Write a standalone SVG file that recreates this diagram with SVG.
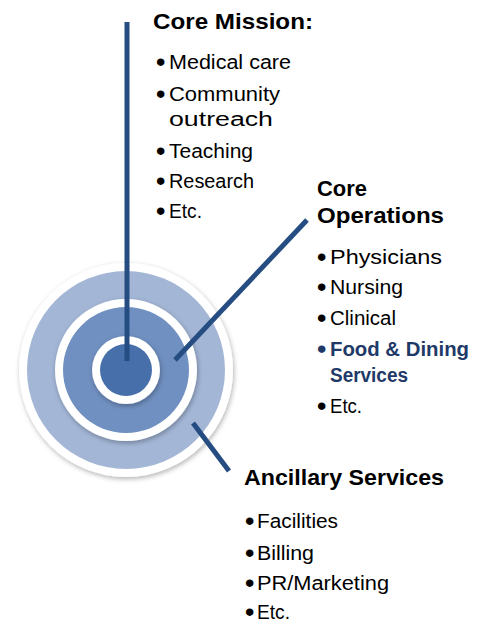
<svg xmlns="http://www.w3.org/2000/svg" width="487" height="623" viewBox="0 0 487 623">
  <defs>
    <filter id="sh" x="-20%" y="-20%" width="140%" height="140%">
      <feDropShadow dx="1" dy="2" stdDeviation="2.5" flood-color="#000" flood-opacity="0.3"/>
    </filter>
    <style>
      text { font-family: "Liberation Sans", Arial, sans-serif; fill: #000; }
      .t { font-size: 22px; font-weight: bold; }
      .b { font-size: 20px; }
      .hl { font-size: 20px; font-weight: bold; fill: #1f3a68; }
      .dot { font-size: 21px; stroke: #000; stroke-width: 1.8; }
      .dothl { font-size: 21px; fill: #1f3a68; stroke: #1f3a68; stroke-width: 1.8; }
      .ring { fill: #ffffff; filter: url(#sh); }
      .conn { stroke: #264d82; stroke-width: 5; fill: none; }
    </style>
  </defs>
  <rect width="487" height="623" fill="#ffffff"/>

  <g id="ancillary-services">
    <circle class="ring" cx="126" cy="370" r="107"/>
    <circle cx="126" cy="370" r="99" fill="#a3b6d6"/>
    <text class="t" x="244" y="485" textLength="200" lengthAdjust="spacingAndGlyphs">Ancillary Services</text>
    <text class="dot" x="246" y="528">•</text>
    <text class="b" x="257" y="528" textLength="81" lengthAdjust="spacingAndGlyphs">Facilities</text>
    <text class="dot" x="246" y="560">•</text>
    <text class="b" x="257" y="560" textLength="57" lengthAdjust="spacingAndGlyphs">Billing</text>
    <text class="dot" x="246" y="590">•</text>
    <text class="b" x="257" y="590" textLength="132" lengthAdjust="spacingAndGlyphs">PR/Marketing</text>
    <text class="dot" x="246" y="619">•</text>
    <text class="b" x="257" y="619" textLength="33" lengthAdjust="spacingAndGlyphs">Etc.</text>
  </g>

  <g id="core-operations">
    <circle class="ring" cx="126" cy="370" r="71"/>
    <circle cx="126" cy="370" r="63" fill="#7090c1"/>
    <text class="t" x="317" y="196" textLength="50" lengthAdjust="spacingAndGlyphs">Core</text>
    <text class="t" x="317" y="223" textLength="127" lengthAdjust="spacingAndGlyphs">Operations</text>
    <text class="dot" x="318" y="264">•</text>
    <text class="b" x="330" y="264" textLength="112" lengthAdjust="spacingAndGlyphs">Physicians</text>
    <text class="dot" x="318" y="294">•</text>
    <text class="b" x="330" y="294" textLength="73" lengthAdjust="spacingAndGlyphs">Nursing</text>
    <text class="dot" x="318" y="325">•</text>
    <text class="b" x="330" y="325" textLength="66" lengthAdjust="spacingAndGlyphs">Clinical</text>
    <text class="dothl" x="318" y="356">•</text>
    <text class="hl" x="330" y="356" textLength="139" lengthAdjust="spacingAndGlyphs">Food &amp; Dining</text>
    <text class="hl" x="330" y="382" textLength="78" lengthAdjust="spacingAndGlyphs">Services</text>
    <text class="dot" x="318" y="413">•</text>
    <text class="b" x="330" y="413" textLength="32" lengthAdjust="spacingAndGlyphs">Etc.</text>
  </g>

  <g id="core-mission">
    <circle class="ring" cx="126" cy="370" r="34"/>
    <circle cx="126" cy="370" r="26" fill="#4770aa"/>
    <text class="t" x="153" y="29" textLength="160" lengthAdjust="spacingAndGlyphs">Core Mission:</text>
    <text class="dot" x="157" y="69">•</text>
    <text class="b" x="169" y="69" textLength="122" lengthAdjust="spacingAndGlyphs">Medical care</text>
    <text class="dot" x="157" y="101">•</text>
    <text class="b" x="169" y="101" textLength="111" lengthAdjust="spacingAndGlyphs">Community</text>
    <text class="b" x="169" y="126" textLength="104" lengthAdjust="spacingAndGlyphs">outreach</text>
    <text class="dot" x="157" y="158">•</text>
    <text class="b" x="169" y="158" textLength="84" lengthAdjust="spacingAndGlyphs">Teaching</text>
    <text class="dot" x="157" y="188">•</text>
    <text class="b" x="169" y="188" textLength="85" lengthAdjust="spacingAndGlyphs">Research</text>
    <text class="dot" x="157" y="218">•</text>
    <text class="b" x="169" y="218" textLength="33" lengthAdjust="spacingAndGlyphs">Etc.</text>
  </g>

  <g id="connectors">
    <line class="conn" x1="127" y1="22" x2="127" y2="361"/>
    <line class="conn" x1="175" y1="360" x2="307" y2="220"/>
    <line class="conn" x1="193" y1="423" x2="229" y2="471"/>
  </g>
</svg>
